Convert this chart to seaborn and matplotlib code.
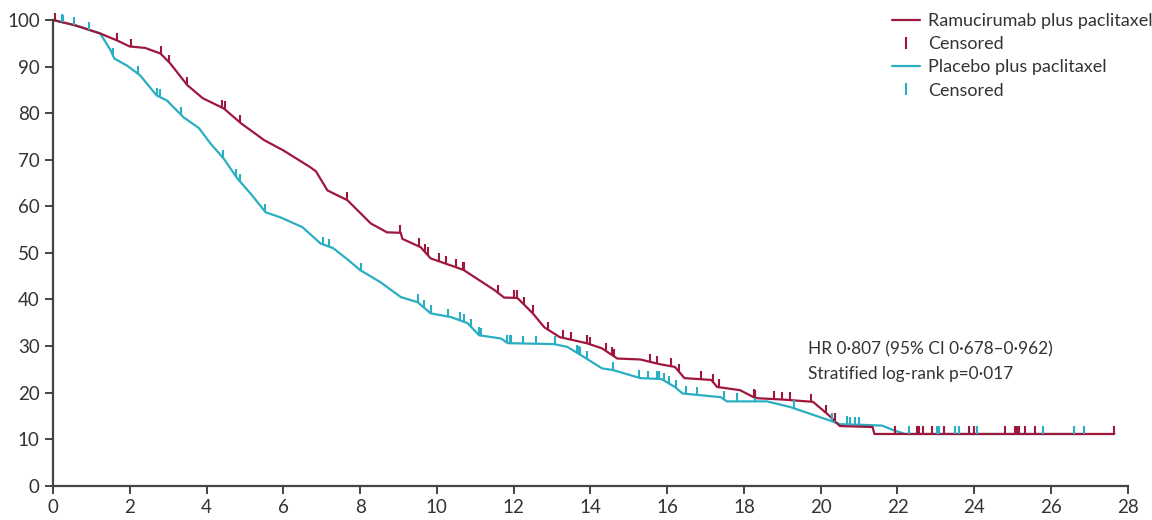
import numpy as np
import pandas as pd
import matplotlib
matplotlib.use("Agg")
import matplotlib.pyplot as plt
from matplotlib.lines import Line2D
import seaborn as sns

###############################################################################
# Data (months, % surviving)
###############################################################################
ram_time = [0, 0.6, 1.23, 1.67, 2.0, 2.4, 2.8, 3.05, 3.5, 3.9, 4.45, 4.9, 5.5, 6.0,
            6.7, 6.85, 7.15, 7.67, 8.28, 8.7, 9.06, 9.1, 9.58, 9.84, 10.5, 10.7,
            11.5, 11.75, 12.1, 12.5, 12.8, 13.2, 13.9, 14.3, 14.7, 15.3, 15.8,
            16.2, 16.45, 17.15, 17.3, 17.9, 18.3, 19.0, 19.8, 20.2, 20.5, 21.35,
            21.4, 27.65]
ram_surv = [100, 98.8, 97.1, 95.6, 94.3, 94.0, 92.8, 90.7, 86.0, 83.2, 81.0, 77.8,
            74.2, 72.0, 68.4, 67.5, 63.4, 61.3, 56.3, 54.4, 54.3, 53.0, 51.2, 48.8,
            46.9, 46.3, 42.0, 40.4, 40.3, 37.0, 34.0, 31.9, 30.6, 29.5, 27.3, 27.1,
            26.1, 25.5, 23.1, 22.7, 21.2, 20.5, 18.8, 18.5, 18.0, 15.2, 12.8, 12.6,
            11.1, 11.1]

pla_time = [0, 0.6, 1.23, 1.5, 1.6, 1.93, 2.27, 2.7, 2.97, 3.4, 3.8, 4.1, 4.45, 4.8,
            5.14, 5.54, 5.93, 6.5, 6.97, 7.3, 7.7, 8.0, 8.53, 9.06, 9.5, 9.84,
            10.37, 10.8, 11.1, 11.67, 11.85, 13.05, 13.4, 13.76, 14.3, 14.6, 15.3,
            15.85, 16.2, 16.4, 16.9, 17.4, 17.55, 18.6, 19.2, 19.7, 20.2, 20.5,
            21.3, 21.6, 21.9, 22.2, 26.87]
pla_surv = [100, 98.8, 97.1, 93.5, 91.7, 90.2, 88.1, 83.8, 82.7, 79.1, 76.8, 73.5,
            70.2, 66.0, 62.8, 58.7, 57.6, 55.5, 52.0, 51.0, 48.4, 46.3, 43.7, 40.5,
            39.4, 37.0, 36.2, 34.9, 32.3, 31.6, 30.6, 30.4, 29.8, 28.0, 25.2, 24.8,
            23.1, 22.9, 21.2, 19.8, 19.4, 19.0, 18.1, 18.1, 16.9, 15.5, 14.1, 13.2,
            13.0, 12.9, 11.9, 11.1, 11.1]

# censoring times (months)
ram_cens = [0.05, 1.67, 2.03, 2.82, 3.03, 3.5, 4.4, 4.47, 4.88, 7.65, 9.04, 9.53,
            9.69, 9.76, 10.05, 10.23, 10.5, 10.67, 10.7, 11.6, 12.0, 12.1, 12.27,
            12.5, 12.9, 13.29, 13.5, 13.9, 14.0, 14.4, 14.55, 14.62, 15.54, 15.74,
            16.1, 16.32, 16.87, 17.2, 17.36, 18.25, 18.28, 18.77, 18.98, 19.2,
            19.74, 20.13, 20.37, 21.93, 22.5, 22.56, 22.66, 22.9, 23.2, 23.86,
            23.99, 24.8, 25.07, 25.12, 25.17, 25.33, 25.58, 27.65]
pla_cens = [0.24, 0.27, 0.55, 0.94, 1.57, 2.22, 2.72, 2.8, 3.34, 4.44, 4.77, 4.88,
            5.53, 7.04, 7.18, 8.02, 9.5, 9.67, 9.84, 10.29, 10.6, 10.7, 10.9, 11.1,
            11.15, 11.83, 11.9, 11.93, 12.25, 12.58, 13.08, 13.65, 13.7, 13.73,
            13.91, 14.59, 15.27, 15.5, 15.74, 15.78, 15.93, 16.06, 16.24, 16.5,
            16.79, 17.47, 17.83, 18.28, 19.3, 20.29, 20.37, 20.68, 20.76, 20.89,
            20.99, 22.3, 23.03, 23.08, 23.21, 23.5, 23.6, 23.86, 24.07, 25.12,
            25.8, 26.6, 26.87]

x_ticks = list(range(0, 29, 2))
y_ticks = list(range(0, 101, 10))

RED = "#A0173E"
TEAL = "#2AAEC2"
TEXT = "#333333"

###############################################################################
# Plot
###############################################################################
sns.set_style("ticks")
plt.rcParams["font.family"] = ["Lato", "DejaVu Sans"]

fig = plt.figure(figsize=(11.52, 5.2), dpi=100)
ax = fig.add_axes([0.046, 0.066, 0.933, 0.8956])

ram = pd.DataFrame({"time": ram_time, "surv": ram_surv})
pla = pd.DataFrame({"time": pla_time, "surv": pla_surv})

sns.lineplot(data=pla, x="time", y="surv", ax=ax, color=TEAL, lw=1.6,
             estimator=None, sort=False, clip_on=False)
sns.lineplot(data=ram, x="time", y="surv", ax=ax, color=RED, lw=1.6,
             estimator=None, sort=False, clip_on=False)

# censor ticks sit on the curve and point upward
tick_marker = [(0, 0), (0, 1)]
ram_c = pd.DataFrame({"time": ram_cens, "surv": np.interp(ram_cens, ram_time, ram_surv)})
pla_c = pd.DataFrame({"time": pla_cens, "surv": np.interp(pla_cens, pla_time, pla_surv)})
sns.scatterplot(data=pla_c, x="time", y="surv", ax=ax, marker=tick_marker, s=130,
                facecolor="none", edgecolor=TEAL, linewidth=1.5, clip_on=False, zorder=3)
sns.scatterplot(data=ram_c, x="time", y="surv", ax=ax, marker=tick_marker, s=130,
                facecolor="none", edgecolor=RED, linewidth=1.5, clip_on=False, zorder=3)

ax.set_xlim(0, 28)
ax.set_ylim(0, 100)
ax.set_xticks(x_ticks)
ax.set_yticks(y_ticks)
ax.set_xlabel("")
ax.set_ylabel("")
sns.despine(ax=ax)
for sp in ["left", "bottom"]:
    ax.spines[sp].set_color("#444444")
    ax.spines[sp].set_linewidth(1.6)
ax.tick_params(axis="both", colors="#444444", labelcolor=TEXT, labelsize=13.5,
               length=6, width=1.4, direction="out")

ax.text(19.68, 29.2, "HR 0·807 (95% CI 0·678–0·962)", fontsize=12.4, color=TEXT,
        va="center", ha="left")
ax.text(19.68, 24.0, "Stratified log-rank p=0·017", fontsize=12.4, color=TEXT,
        va="center", ha="left")

handles = [
    Line2D([], [], color=RED, lw=1.6),
    Line2D([], [], color=RED, marker="|", ls="none", markersize=8, mew=1.5),
    Line2D([], [], color=TEAL, lw=1.6),
    Line2D([], [], color=TEAL, marker="|", ls="none", markersize=8, mew=1.5),
]
labels = ["Ramucirumab plus paclitaxel", "Censored", "Placebo plus paclitaxel", "Censored"]
leg = ax.legend(handles, labels, loc="upper left", bbox_to_anchor=(0.781, 1.015),
                frameon=False, fontsize=13.0, handlelength=1.5, handletextpad=0.45,
                labelspacing=0.4, borderaxespad=0, borderpad=0)
for t in leg.get_texts():
    t.set_color(TEXT)

fig.savefig("out.png", dpi=100)
